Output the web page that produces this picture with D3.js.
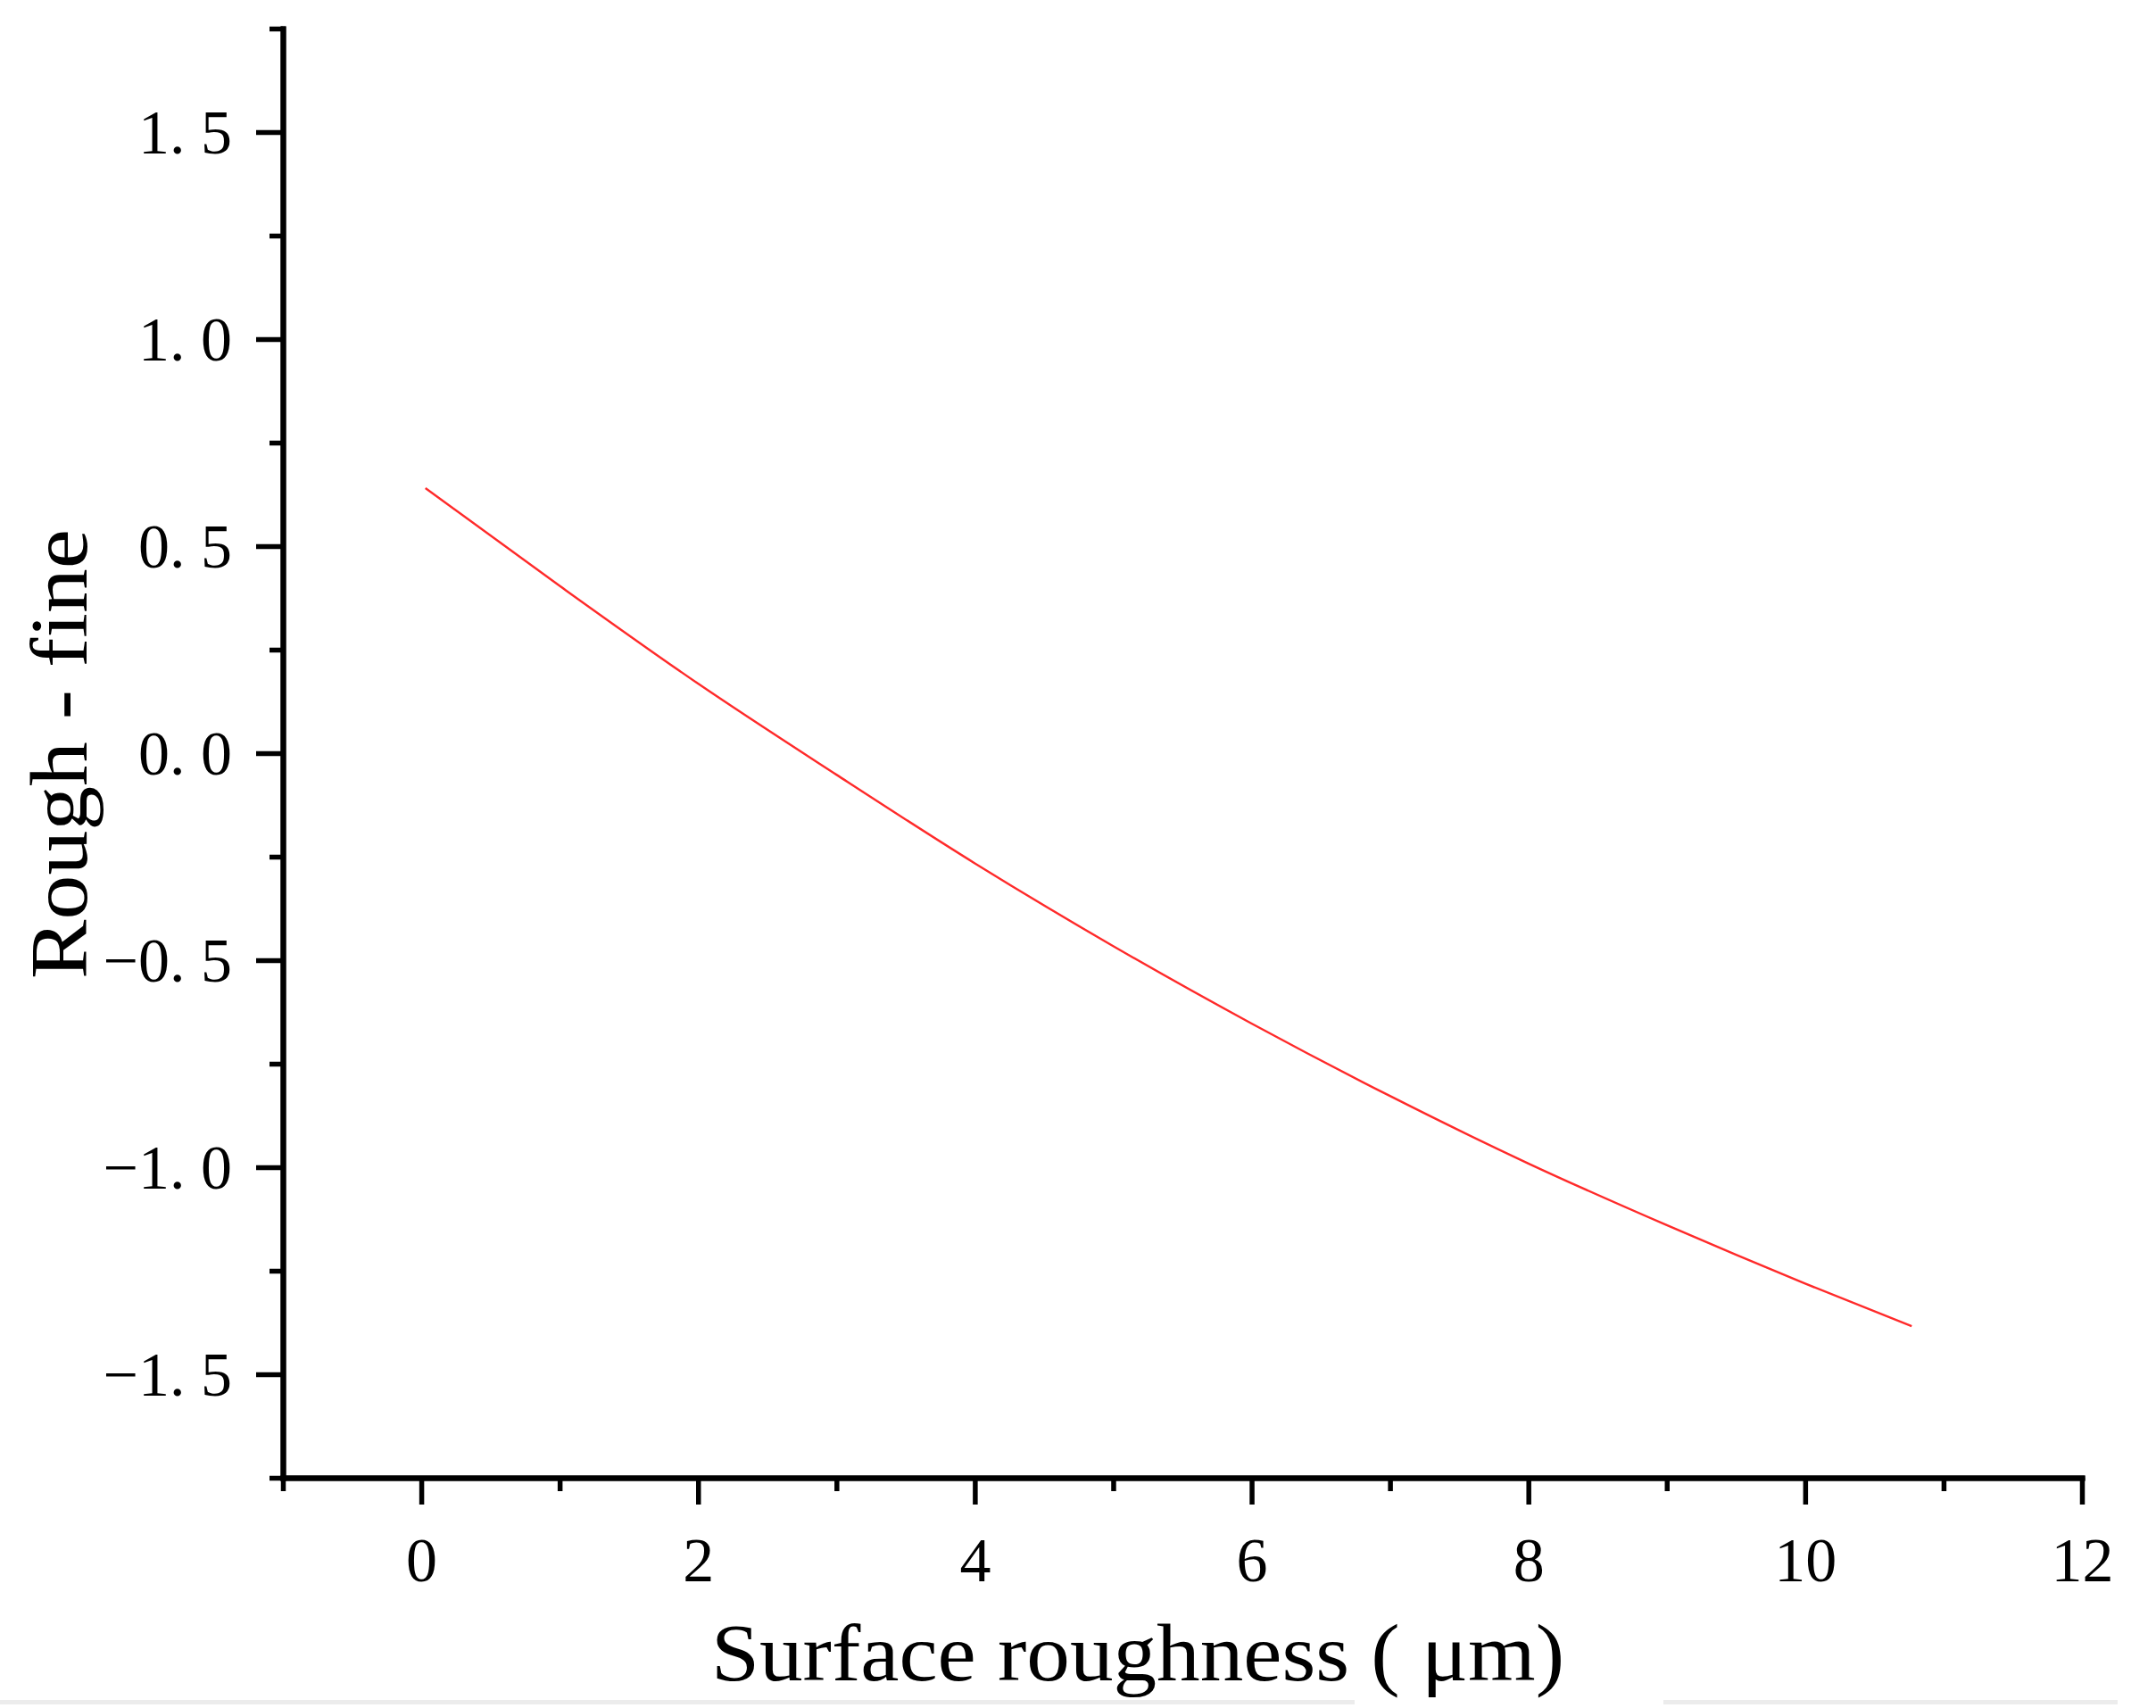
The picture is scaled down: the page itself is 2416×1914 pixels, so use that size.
<!DOCTYPE html>
<html>
<head>
<meta charset="utf-8">
<script src="https://cdn.jsdelivr.net/npm/d3@7"></script>
<style>
  html, body { margin: 0; padding: 0; background: #ffffff; }
  svg { display: block; }
  text { font-family: "Liberation Serif", "DejaVu Serif", serif; fill: #000; }
</style>
</head>
<body>
<svg id="chart" width="2416" height="1914"></svg>
<script>
// ---- data ----
const xValues = [0.03, 1, 2, 3, 4, 5, 6, 7, 8, 9, 10, 10.77];
const yValues = [0.640, 0.404, 0.168, -0.052, -0.266, -0.466, -0.653, -0.828, -0.991, -1.140, -1.281, -1.384];

const xMajorTicks = [0, 2, 4, 6, 8, 10, 12];
const xTickLabels = ["0", "2", "4", "6", "8", "10", "12"];
const xMinorTicks = [-1, 1, 3, 5, 7, 9, 11];

const yMajorTicks = [-1.5, -1.0, -0.5, 0.0, 0.5, 1.0, 1.5];
const yTickLabels = ["\u22121. 5", "\u22121. 0", "\u22120. 5", "0. 0", "0. 5", "1. 0", "1. 5"];
const yMinorTicks = [-1.75, -1.25, -0.75, -0.25, 0.25, 0.75, 1.25, 1.75];

const xTitle = "Surface roughness ( \u03bcm)";
const yTitle = "Rough - fine";

// ---- layout ----
const svg = d3.select("#chart");
const plotLeft = 317, plotRight = 2333, plotTop = 32, plotBottom = 1656;

const x = d3.scaleLinear().domain([-1, 12]).range([plotLeft, plotRight]);
const y = d3.scaleLinear().domain([-1.75, 1.75]).range([plotBottom, plotTop]);

// faint scan artefact bands at the bottom edge
svg.append("rect").attr("x", 0).attr("y", 1905).attr("width", 1518).attr("height", 5).attr("fill", "#ececec");
svg.append("rect").attr("x", 1864).attr("y", 1905).attr("width", 509).attr("height", 5).attr("fill", "#ececec");

// curve
const line = d3.line().x((d, i) => x(xValues[i])).y(d => y(d)).curve(d3.curveMonotoneX);
svg.append("path")
  .datum(yValues)
  .attr("d", line)
  .attr("fill", "none")
  .attr("stroke", "#ff2a2a")
  .attr("stroke-width", 2.4);

function styleAxis(g) {
  g.selectAll("path.domain").attr("stroke", "#000").attr("stroke-width", 6).attr("stroke-linecap", "square");
  g.selectAll(".tick line").attr("stroke", "#000").attr("stroke-width", 5.5);
}

// Y axis minor
svg.append("g")
  .attr("transform", `translate(${plotLeft},0)`)
  .call(d3.axisLeft(y).tickValues(yMinorTicks).tickSize(15).tickSizeOuter(0).tickFormat(""))
  .call(styleAxis);

// Y axis major
const yAxisG = svg.append("g")
  .attr("transform", `translate(${plotLeft},0)`)
  .call(d3.axisLeft(y).tickValues(yMajorTicks).tickSize(30).tickSizeOuter(0).tickPadding(27)
        .tickFormat((d, i) => yTickLabels[i]))
  .call(styleAxis);
yAxisG.selectAll("text")
  .attr("font-family", "Liberation Serif")
  .attr("font-size", 70)
  .attr("fill", "#000")
  .attr("dy", "0.34em");

// X axis minor
svg.append("g")
  .attr("transform", `translate(0,${plotBottom})`)
  .call(d3.axisBottom(x).tickValues(xMinorTicks).tickSize(15).tickSizeOuter(0).tickFormat(""))
  .call(styleAxis);

// X axis major
const xAxisG = svg.append("g")
  .attr("transform", `translate(0,${plotBottom})`)
  .call(d3.axisBottom(x).tickValues(xMajorTicks).tickSize(30).tickSizeOuter(0).tickPadding(36)
        .tickFormat((d, i) => xTickLabels[i]))
  .call(styleAxis);
xAxisG.selectAll("text")
  .attr("font-family", "Liberation Serif")
  .attr("font-size", 70)
  .attr("fill", "#000");

// axis titles
svg.append("text")
  .attr("x", 1275)
  .attr("y", 1883)
  .attr("text-anchor", "middle")
  .attr("font-size", 90)
  .attr("textLength", 956)
  .attr("lengthAdjust", "spacingAndGlyphs")
  .text(xTitle);

svg.append("text")
  .attr("transform", "translate(97,845) rotate(-90)")
  .attr("text-anchor", "middle")
  .attr("font-size", 90)
  .attr("textLength", 504)
  .attr("lengthAdjust", "spacingAndGlyphs")
  .text(yTitle);
</script>
</body>
</html>
